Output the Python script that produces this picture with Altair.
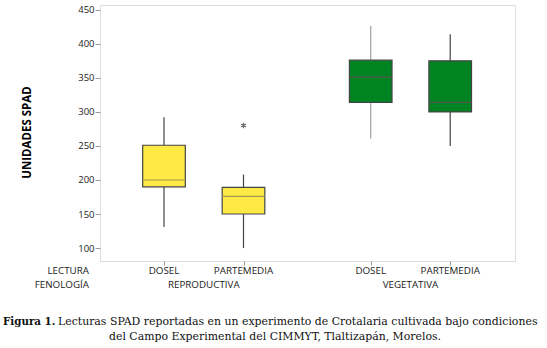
import altair as alt
import pandas as pd

lectura = ["DOSEL", "PARTEMEDIA", "DOSEL", "PARTEMEDIA"]
fenologia = ["REPRODUCTIVA", "REPRODUCTIVA", "VEGETATIVA", "VEGETATIVA"]
whisker_low = [131, 100, 261, 250]
q1 = [190, 150, 314, 300]
median = [200, 176, 351, 314]
q3 = [251, 189, 376, 375]
whisker_high = [292, 208, 426, 414]
out_lectura = ["PARTEMEDIA"]
out_fenologia = ["REPRODUCTIVA"]
out_value = [280]
y_ticks = [100, 150, 200, 250, 300, 350, 400, 450]

lect_order = ["DOSEL", "PARTEMEDIA"]
fen_order = ["REPRODUCTIVA", "VEGETATIVA"]
GROUP_GAP = 2.6
HALF = 0.268

def position(l, f):
    return 1 + lect_order.index(l) + GROUP_GAP * fen_order.index(f)

df = pd.DataFrame({
    "lectura": lectura, "fenologia": fenologia,
    "low": whisker_low, "q1": q1, "median": median, "q3": q3, "high": whisker_high,
})
df["pos"] = [position(l, f) for l, f in zip(lectura, fenologia)]
df["lo"] = df["pos"] - HALF
df["hi"] = df["pos"] + HALF

out_df = pd.DataFrame({"lectura": out_lectura, "fenologia": out_fenologia, "value": out_value})
out_df["pos"] = [position(l, f) for l, f in zip(out_lectura, out_fenologia)]

fen_df = df.groupby("fenologia", as_index=False)["pos"].mean()

W, H = 415, 256
LABEL_FONT = "Open Sans"
LBL_SIZE = 9.8

xscale = alt.Scale(domain=[0.195, 5.415], nice=False, zero=False)
yscale = alt.Scale(domain=[81, 457], nice=False, zero=False)
xaxis = alt.Axis(values=list(df["pos"]), labels=False, title=None, ticks=True, tickSize=4,
                 tickColor="#999", domain=False, grid=False)
yaxis = alt.Axis(values=y_ticks, title="UNIDADES SPAD", grid=False, domain=False,
                 tickSize=5, tickColor="#999", labelPadding=1, labelFont=LABEL_FONT,
                 labelFontSize=9.5, labelColor="#222", labelOverlap=False,
                 titleFont=LABEL_FONT, titleFontSize=11.5, titleFontWeight="bold",
                 titleColor="#000", titleX=-73, titleY=127, titleAngle=-90,
                 titleAlign="center", titleBaseline="middle")

def X(field):
    return alt.X(field, scale=xscale, axis=xaxis)

def Y(field):
    return alt.Y(field, scale=yscale, axis=yaxis)

fill_scale = alt.Scale(domain=fen_order, range=["#FFE945", "#008321"])

base = alt.Chart(df)

whiskers = base.mark_rule(strokeWidth=1.2).encode(
    x=X("pos:Q"),
    y=Y("low:Q"),
    y2="high:Q",
    color=alt.condition(
        "datum.lectura == 'DOSEL' && datum.fenologia == 'VEGETATIVA'",
        alt.value("#a0a0a0"), alt.value("#444444")),
)

boxes = base.mark_rect(stroke="#444444", strokeWidth=1.2).encode(
    x=X("lo:Q"), x2="hi:Q",
    y=Y("q1:Q"), y2="q3:Q",
    fill=alt.Fill("fenologia:N", scale=fill_scale, legend=None),
)

medians = base.mark_rule(strokeWidth=1.2).encode(
    x=X("lo:Q"), x2="hi:Q",
    y=Y("median:Q"),
    color=alt.condition("datum.fenologia == 'REPRODUCTIVA'",
                        alt.value("#a09a50"), alt.value("#555555")),
)

asterisk = "M0,-1L0,1M-0.87,-0.5L0.87,0.5M-0.87,0.5L0.87,-0.5"
outliers = alt.Chart(out_df).mark_point(shape=asterisk, size=30, filled=False,
                                        stroke="#333333", strokeWidth=1.2).encode(
    x=X("pos:Q"), y=Y("value:Q"))

lect_labels = base.mark_text(font=LABEL_FONT, fontSize=LBL_SIZE, color="#222",
                             baseline="middle").encode(
    x=X("pos:Q"), y=alt.value(H + 10), text="lectura:N")

fen_labels = alt.Chart(fen_df).mark_text(font=LABEL_FONT, fontSize=LBL_SIZE, color="#222",
                                         baseline="middle").encode(
    x=X("pos:Q"), y=alt.value(H + 24), text="fenologia:N")

row_titles = ["LECTURA", "FENOLOGÍA"]
row_labels = alt.layer(
    alt.Chart(pd.DataFrame({"t": [row_titles[0]]})).mark_text(
        font=LABEL_FONT, fontSize=LBL_SIZE, color="#222", align="right", baseline="middle"
    ).encode(x=alt.value(-11), y=alt.value(H + 10), text="t:N"),
    alt.Chart(pd.DataFrame({"t": [row_titles[1]]})).mark_text(
        font=LABEL_FONT, fontSize=LBL_SIZE, color="#222", align="right", baseline="middle"
    ).encode(x=alt.value(-11), y=alt.value(H + 24), text="t:N"),
)

cap_bold = ["Figura 1."]
cap_line1 = ["Lecturas SPAD reportadas en un experimento de Crotalaria cultivada bajo condiciones"]
cap_line2 = ["del Campo Experimental del CIMMYT, Tlaltizapán, Morelos."]
CAP_FONT = "DejaVu Serif"
CAP_SIZE = 10.9
cap1b = alt.Chart(pd.DataFrame({"t": cap_bold})).mark_text(
    font=CAP_FONT, fontSize=10.3, fontWeight="bold", align="left", baseline="middle",
    color="#111").encode(x=alt.value(-97), y=alt.value(317), text="t:N")
cap1 = alt.Chart(pd.DataFrame({"t": cap_line1})).mark_text(
    font=CAP_FONT, fontSize=CAP_SIZE, align="left", baseline="middle",
    color="#111").encode(x=alt.value(-42), y=alt.value(317), text="t:N")
cap2 = alt.Chart(pd.DataFrame({"t": cap_line2})).mark_text(
    font=CAP_FONT, fontSize=CAP_SIZE, align="center", baseline="middle",
    color="#111").encode(x=alt.value(175), y=alt.value(332), text="t:N")

chart = alt.layer(
    whiskers, boxes, medians, outliers, lect_labels, fen_labels, row_labels, cap1b, cap1, cap2
).properties(
    width=W, height=H,
    autosize=alt.AutoSizeParams(type="none"),
    padding={"left": 100, "top": 5, "right": 32, "bottom": 87},
).configure_view(stroke="#999999", strokeWidth=1.2).configure(background="white")

chart.save("out.html", embed_options={"renderer": "svg", "actions": False})
